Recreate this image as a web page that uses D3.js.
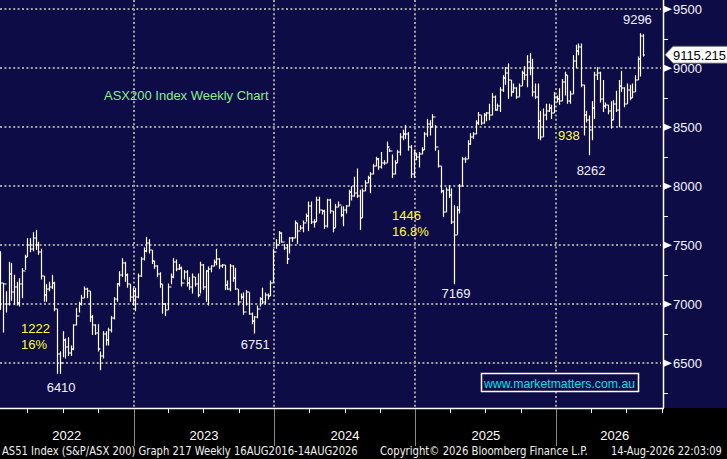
<!DOCTYPE html>
<html>
<head>
<meta charset="utf-8">
<script src="https://cdn.jsdelivr.net/npm/d3@7"></script>
<style>
  body { margin: 0; background: #000; }
  svg { display: block; }
</style>
</head>
<body>
<div id="visualization"></div>
<script>
// weekly AS51 bars, oldest first (one per Friday, last bar = 14 Aug 2026)
let highs = [
  7450, 7180, 7110, 7360, 7350, 7250, 7190, 7220, 7305, 7420, 7560, 7560, 7610, 7630, 7530, 7470, 7240, 7170, 7190, 7250,
  7190, 6960, 6600, 6770, 6710, 6720, 6650, 6830, 6970, 7020, 7080, 7150, 7140, 7110, 6910, 6830, 6830, 6600, 6770, 6770,
  6800, 6900, 7060, 7180, 7280, 7390, 7360, 7260, 7170, 7140, 7140, 7260, 7400, 7480, 7570, 7550, 7460, 7370, 7330, 7270,
  7170, 7010, 7175, 7260, 7390, 7380, 7340, 7320, 7290, 7290, 7230, 7260, 7230, 7260, 7360, 7340, 7290, 7320, 7330, 7380,
  7470, 7390, 7340, 7330, 7200, 7340, 7330, 7310, 7130, 7090, 7100, 7120, 7100, 6930, 6900, 6990, 7060, 7140, 7100, 7090,
  7200, 7470, 7550, 7620, 7610, 7510, 7510, 7570, 7570, 7710, 7690, 7670, 7710, 7770, 7870, 7870, 7720, 7910, 7910, 7800,
  7800, 7895, 7895, 7790, 7850, 7870, 7830, 7830, 7840, 7970, 8000, 8080, 8150, 7970, 7980, 8050, 8090, 8120, 8190, 8250,
  8240, 8290, 8220, 8380, 8320, 8270, 8220, 8310, 8450, 8480, 8520, 8460, 8350, 8310, 8280, 8290, 8330, 8460, 8570, 8560,
  8610, 8520, 8310, 8170, 7970, 7990, 8010, 7980, 7840, 7830, 8020, 8250, 8250, 8390, 8450, 8460, 8560, 8630, 8600, 8620,
  8630, 8700, 8790, 8770, 8700, 8840, 8940, 9010, 9040, 8900, 8870, 8840, 8870, 8980, 9020, 9110, 9130, 9080, 8870, 8870,
  8640, 8660, 8700, 8700, 8690, 8800, 8770, 8830, 8910, 8970, 8940, 8810, 9110, 9200, 9210, 9210, 8860, 8640, 8600, 8720,
  8970, 9010, 8970, 8900, 8710, 8690, 8720, 8730, 8810, 8900, 8980, 8840, 8870, 8860, 8870, 8940, 9100, 9296, 9290
]
let lows = [
  6950, 6760, 6930, 6990, 7030, 6995, 6990, 6980, 7050, 7290, 7400, 7440, 7450, 7460, 7420, 7210, 7020, 7020, 7110, 7130,
  6940, 6410, 6410, 6550, 6540, 6560, 6560, 6610, 6820, 6930, 6990, 7050, 7050, 6850, 6740, 6740, 6600, 6440, 6540, 6650,
  6650, 6760, 6870, 7020, 7150, 7230, 7190, 7140, 7020, 6990, 6940, 7050, 7230, 7370, 7440, 7430, 7340, 7300, 7230, 7140,
  6920, 6900, 6950, 7170, 7220, 7280, 7290, 7150, 7210, 7150, 7120, 7090, 7150, 7060, 7090, 7120, 7020, 6990, 7270, 7320,
  7330, 7300, 7310, 7120, 7120, 7110, 7190, 7120, 6990, 7040, 6910, 6990, 6910, 6830, 6751, 6880, 6980, 7000, 7000, 7040,
  7070, 7180, 7470, 7510, 7520, 7460, 7340, 7430, 7530, 7560, 7510, 7630, 7610, 7700, 7620, 7680, 7650, 7700, 7770, 7760,
  7640, 7650, 7770, 7610, 7650, 7820, 7740, 7660, 7770, 7830, 7880, 7910, 7900, 7630, 7730, 7960, 8030, 7940, 8100, 8170,
  8140, 8150, 8180, 8200, 8290, 8070, 8100, 8200, 8260, 8390, 8400, 8300, 8070, 8070, 8220, 8160, 8270, 8310, 8420, 8430,
  8500, 8300, 8160, 7940, 7740, 7780, 7900, 7680, 7169, 7590, 7770, 8000, 8200, 8230, 8350, 8400, 8440, 8520, 8520, 8530,
  8550, 8560, 8600, 8640, 8640, 8630, 8800, 8860, 8740, 8760, 8790, 8740, 8760, 8850, 8900, 8840, 8940, 8760, 8740, 8400,
  8390, 8420, 8560, 8630, 8570, 8620, 8710, 8690, 8720, 8770, 8700, 8700, 8780, 9000, 9110, 8840, 8430, 8540, 8262, 8390,
  8570, 8900, 8710, 8630, 8660, 8610, 8490, 8560, 8630, 8500, 8800, 8670, 8700, 8730, 8750, 8800, 8900, 8930, 9100
]
let closes = [
  7180, 7170, 7000, 7260, 7100, 7150, 7010, 7170, 7280, 7400, 7500, 7470, 7560, 7500, 7440, 7240, 7080, 7130, 7150, 7180,
  6960, 6580, 6500, 6700, 6640, 6590, 6620, 6820, 6900, 7000, 7050, 7130, 7110, 6890, 6820, 6760, 6620, 6560, 6750, 6700,
  6780, 6880, 7040, 7170, 7250, 7350, 7250, 7170, 7060, 7110, 7060, 7240, 7380, 7450, 7520, 7460, 7370, 7320, 7260, 7170,
  7000, 6950, 7150, 7230, 7360, 7300, 7310, 7180, 7270, 7180, 7150, 7230, 7170, 7080, 7330, 7150, 7280, 7300, 7320, 7360,
  7380, 7320, 7330, 7160, 7130, 7320, 7220, 7130, 7020, 7060, 6930, 7100, 6920, 6860, 6890, 6960, 7040, 7020, 7080, 7070,
  7180, 7440, 7500, 7600, 7530, 7480, 7380, 7560, 7560, 7690, 7620, 7650, 7690, 7750, 7830, 7700, 7700, 7880, 7800, 7790,
  7660, 7880, 7790, 7650, 7820, 7840, 7760, 7800, 7830, 7950, 7920, 7940, 7920, 7730, 7960, 8030, 8070, 8100, 8170, 8230,
  8160, 8200, 8200, 8330, 8300, 8100, 8200, 8290, 8420, 8440, 8440, 8330, 8100, 8280, 8250, 8270, 8310, 8440, 8530, 8500,
  8590, 8330, 8170, 7960, 7780, 7970, 7930, 7700, 7590, 7800, 8000, 8230, 8230, 8360, 8420, 8440, 8540, 8600, 8540, 8600,
  8620, 8600, 8760, 8650, 8680, 8820, 8920, 8960, 8900, 8800, 8830, 8760, 8850, 8960, 8940, 9050, 9000, 8800, 8760, 8550,
  8420, 8600, 8640, 8660, 8620, 8760, 8740, 8720, 8880, 8940, 8720, 8780, 9060, 9150, 9180, 8860, 8600, 8560, 8480, 8660,
  8940, 8960, 8740, 8680, 8690, 8640, 8560, 8700, 8650, 8850, 8830, 8700, 8820, 8750, 8800, 8900, 9080, 9270, 9115.215
]
let lastDate = new Date(Date.UTC(2026, 7, 14))
let yearLabels = [2022, 2023, 2024, 2025, 2026]
let priceTicks = [6500, 7000, 7500, 8000, 8500, 9000, 9500]

let width = 727
let height = 459
let plotRight = 663
let plotBottom = 408
let navy = '#0e0c46'
let font = 'Arial, "Liberation Sans", sans-serif'

let bars = closes.map((close, index) => {
  return {
    date: new Date(lastDate.getTime() - (closes.length - 1 - index) * 7 * 86400000),
    high: highs[index],
    low: lows[index],
    open: index > 0 ? closes[index - 1] : close,
    close: close
  }
})

let svg = d3.select('#visualization')
            .append('svg')
              .attr('width', width)
              .attr('height', height)

svg.append('rect')
    .attr('width', width).attr('height', height)
    .attr('fill', '#000')
svg.append('rect')
    .attr('width', width).attr('height', plotBottom)
    .attr('fill', navy)

let xScale = d3.scaleUtc()
              .domain([new Date(Date.UTC(2023, 0, 1)), new Date(Date.UTC(2026, 0, 1))])
              .range([133.5, 556.3])

let yScale = d3.scaleLinear()
              .domain([6500, 9500])
              .range([363.2, 9.3])

// dotted grid
let grid = svg.append('g')
              .attr('stroke', '#a0a0a0')
              .attr('stroke-width', 2)
              .attr('stroke-dasharray', '2,2.4')

grid.selectAll('.hgrid')
    .data(priceTicks)
    .enter()
    .append('line')
      .attr('x1', 0).attr('x2', plotRight - 2)
      .attr('y1', (d) => Math.round(yScale(d)))
      .attr('y2', (d) => Math.round(yScale(d)))

let yearStarts = yearLabels.slice(1).map((year) => new Date(Date.UTC(year, 0, 1)))

grid.selectAll('.vgrid')
    .data(yearStarts)
    .enter()
    .append('line')
      .attr('x1', (d) => Math.round(xScale(d)))
      .attr('x2', (d) => Math.round(xScale(d)))
      .attr('y1', 0).attr('y2', plotBottom)

// OHLC bars
svg.append('g')
    .selectAll('path')
    .data(bars)
    .enter()
    .append('path')
      .attr('d', (d) => {
        let x = Math.round(xScale(d.date)) + 0.5
        return 'M' + x + ',' + yScale(d.high) + 'V' + yScale(d.low) +
               'M' + (x - 1.5) + ',' + Math.round(yScale(d.open)) + 'H' + x +
               'M' + x + ',' + Math.round(yScale(d.close)) + 'H' + (x + 1.5)
      })
      .attr('fill', 'none')
      .attr('stroke', '#fff')
      .attr('stroke-width', 1.2)

// frame lines
svg.append('line')
    .attr('x1', plotRight + 0.5).attr('x2', plotRight + 0.5)
    .attr('y1', 0).attr('y2', plotBottom)
    .attr('stroke', '#fff').attr('stroke-width', 1.5)
svg.append('line')
    .attr('x1', 0).attr('x2', plotRight + 1)
    .attr('y1', plotBottom + 0.5).attr('y2', plotBottom + 0.5)
    .attr('stroke', '#fff').attr('stroke-width', 1.5)

// right price axis
let minorTicks = d3.range(6250, 9500, 500)
svg.selectAll('.minor')
    .data(minorTicks)
    .enter()
    .append('line')
      .attr('x1', plotRight).attr('x2', plotRight + 5)
      .attr('y1', (d) => Math.round(yScale(d)) + 0.5)
      .attr('y2', (d) => Math.round(yScale(d)) + 0.5)
      .attr('stroke', '#fff')

svg.selectAll('.marker')
    .data(priceTicks)
    .enter()
    .append('path')
      .attr('d', (d) => {
        let y = yScale(d)
        return 'M' + (plotRight + 1) + ',' + (y - 3.5) + 'L' + (plotRight + 9) + ',' + y + 'L' + (plotRight + 1) + ',' + (y + 3.5) + 'Z'
      })
      .attr('fill', '#fff')

svg.selectAll('.priceLabel')
    .data(priceTicks)
    .enter()
    .append('text')
      .text((d) => d)
      .attr('x', plotRight + 10)
      .attr('y', (d) => yScale(d) + 5)
      .attr('fill', '#f4f4ff')
      .attr('font-family', font)
      .attr('font-size', 13)

// last price tag
let lastY = yScale(closes[closes.length - 1])
svg.append('path')
    .attr('d', 'M' + (plotRight + 2) + ',' + lastY + 'L' + (plotRight + 10) + ',' + (lastY - 8.5) +
               'H' + (width + 2) + 'V' + (lastY + 8.5) + 'H' + (plotRight + 10) + 'Z')
    .attr('fill', '#fff')
    .attr('stroke', '#555')
    .attr('stroke-width', 0.8)
svg.append('text')
    .text(d3.format('.3f')(closes[closes.length - 1]))
    .attr('x', plotRight + 10)
    .attr('y', lastY + 5)
    .attr('textLength', 53)
    .attr('lengthAdjust', 'spacingAndGlyphs')
    .attr('fill', '#000')
    .attr('font-family', font)
    .attr('font-size', 13)

// time axis
let quarterTicks = d3.utcMonth.every(3).range(new Date(Date.UTC(2022, 3, 1)), new Date(Date.UTC(2026, 11, 1)))
                    .filter((d) => xScale(d) <= plotRight + 1)
svg.selectAll('.qtick')
    .data(quarterTicks)
    .enter()
    .append('line')
      .attr('x1', (d) => Math.round(xScale(d)) + 0.5)
      .attr('x2', (d) => Math.round(xScale(d)) + 0.5)
      .attr('y1', plotBottom).attr('y2', plotBottom + 5)
      .attr('stroke', '#fff')

svg.selectAll('.ysep')
    .data(yearStarts)
    .enter()
    .append('line')
      .attr('x1', (d) => Math.round(xScale(d)) + 0.5)
      .attr('x2', (d) => Math.round(xScale(d)) + 0.5)
      .attr('y1', plotBottom + 1).attr('y2', 446)
      .attr('stroke', '#8a8a8a')

svg.selectAll('.yearLabel')
    .data(yearLabels)
    .enter()
    .append('text')
      .text((d) => d)
      .attr('x', (d) => {
        let start = Math.max(0, xScale(new Date(Date.UTC(d, 0, 1))))
        let end = Math.min(plotRight + 10, xScale(new Date(Date.UTC(d + 1, 0, 1))))
        return (start + end) / 2
      })
      .attr('y', 440)
      .attr('text-anchor', 'middle')
      .attr('fill', '#fff')
      .attr('font-family', font)
      .attr('font-size', 13)

// footer: squeeze each run horizontally into the width it takes in the original
let footer = [
  { text: 'AS51 Index (S&P/ASX 200) Graph 217 Weekly 16AUG2016-14AUG2026', x: 2, w: 356 },
  { text: 'Copyright\u00a9 2026 Bloomberg Finance L.P.', x: 380, w: 208 },
  { text: '14-Aug-2026 22:03:09', x: 611, w: 111 }
]
svg.selectAll('.footer')
    .data(footer)
    .enter()
    .append('text')
      .text((d) => d.text)
      .attr('fill', '#f0f0f0')
      .attr('font-family', '"Liberation Sans Narrow", "DejaVu Sans Condensed", sans-serif')
      .attr('font-size', 12)
      .attr('transform', function (d) {
        let natural = this.getComputedTextLength()
        return 'translate(' + d.x + ',455) scale(' + (d.w / natural) + ',1)'
      })

// annotations
let addText = (text, x, y, color, anchor) => {
  return svg.append('text')
      .text(text)
      .attr('x', x).attr('y', y)
      .attr('text-anchor', anchor || 'start')
      .attr('fill', color)
      .attr('font-family', font)
      .attr('font-size', 13)
}

addText('ASX200 Index Weekly Chart', 104, 100, '#86f08a')
addText('1222', 21, 333, '#ffff33')
addText('16%', 21, 349, '#ffff33')
addText('1446', 392, 220, '#ffff33')
addText('16.8%', 392, 236, '#ffff33')
addText('938', 558, 140, '#ffff33')

let labelAt = (value, dx, dy, useHigh) => {
  let bar = bars.find((d) => (useHigh ? d.high : d.low) === value)
  let y = yScale(useHigh ? bar.high : bar.low)
  addText(value, xScale(bar.date) + dx, y + dy, '#eef2ff', 'middle')
}
labelAt(6410, 4, 18)
labelAt(6751, 1, 15)
labelAt(7169, 2, 14)
labelAt(8262, 2, 20)
labelAt(9296, -3, -9, true)

// watermark
svg.append('rect')
    .attr('x', 481.5).attr('y', 373.5)
    .attr('width', 157).attr('height', 18)
    .attr('fill', navy)
    .attr('stroke', '#fff')
    .attr('stroke-width', 1.5)
addText('www.marketmatters.com.au', 484, 388, '#00e0ea')
  .attr('textLength', 151)
  .attr('lengthAdjust', 'spacingAndGlyphs')
</script>
</body>
</html>
